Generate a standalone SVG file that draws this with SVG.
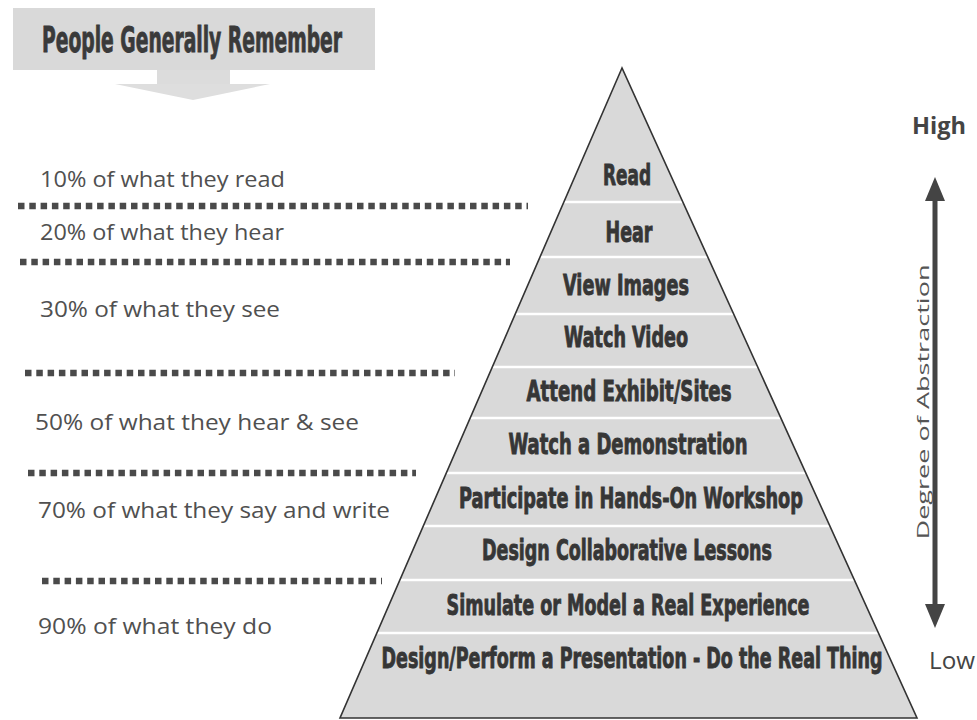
<svg xmlns="http://www.w3.org/2000/svg" width="977" height="720" viewBox="0 0 977 720">
<style>
.lbl{font-family:"Open Sans","Noto Sans",sans-serif;font-size:21px;fill:#505050}
.dots{stroke:#4a4a4a;stroke-width:6.5;stroke-dasharray:6.5 4.8;fill:none}
.lvl{font-family:"DejaVu Sans Condensed","Liberation Sans Narrow","Liberation Sans",sans-serif;font-weight:bold;font-size:29px;fill:#363636;stroke:#363636;stroke-width:0.9;text-anchor:middle}
.div{stroke:#fff;stroke-width:2.5}
</style>
<defs>
<clipPath id="pyrClip"><polygon points="622,68 340,718 917,718"/></clipPath>
</defs>
<rect width="977" height="720" fill="#fff"/>
<g id="header">
<rect x="13" y="8" width="362" height="62" fill="#d9d9d9"/>
<rect x="157" y="70" width="73" height="14" fill="#dcdcdc"/>
<polygon points="115,84 270,84 193,100" fill="#dedede"/>
<text x="42" y="52" font-family="DejaVu Sans Condensed,Liberation Sans Narrow,sans-serif" font-weight="bold" font-size="35" fill="#3a3a3a" stroke="#3a3a3a" stroke-width="0.9" textLength="300" lengthAdjust="spacingAndGlyphs">People Generally Remember</text>
</g>
<g id="labels">
<text class="lbl" x="40" y="187" textLength="245" lengthAdjust="spacingAndGlyphs">10% of what they read</text>
<text class="lbl" x="40" y="240" textLength="244" lengthAdjust="spacingAndGlyphs">20% of what they hear</text>
<text class="lbl" x="40" y="317" textLength="240" lengthAdjust="spacingAndGlyphs">30% of what they see</text>
<text class="lbl" x="35" y="430" textLength="324" lengthAdjust="spacingAndGlyphs">50% of what they hear &amp; see</text>
<text class="lbl" x="38" y="518" textLength="352" lengthAdjust="spacingAndGlyphs">70% of what they say and write</text>
<text class="lbl" x="38" y="634" textLength="234" lengthAdjust="spacingAndGlyphs">90% of what they do</text>
</g>
<g id="connectors">
<line class="dots" x1="18" y1="206" x2="528" y2="206"/>
<line class="dots" x1="20" y1="262" x2="510" y2="262"/>
<line class="dots" x1="25" y1="373" x2="455" y2="373"/>
<line class="dots" x1="28" y1="473" x2="416" y2="473"/>
<line class="dots" x1="42" y1="581" x2="382" y2="581"/>
</g>
<g id="pyramid">
<polygon points="622,68 340,718 917,718" fill="#d9d9d9"/>
<g clip-path="url(#pyrClip)">
<line class="div" x1="300" y1="202" x2="950" y2="202"/>
<line class="div" x1="300" y1="257" x2="950" y2="257"/>
<line class="div" x1="300" y1="314" x2="950" y2="314"/>
<line class="div" x1="300" y1="367" x2="950" y2="367"/>
<line class="div" x1="300" y1="418" x2="950" y2="418"/>
<line class="div" x1="300" y1="473" x2="950" y2="473"/>
<line class="div" x1="300" y1="526" x2="950" y2="526"/>
<line class="div" x1="300" y1="580" x2="950" y2="580"/>
<line class="div" x1="300" y1="633" x2="950" y2="633"/>
</g>
<polygon points="622,68 340,718 917,718" fill="none" stroke="#333" stroke-width="1.6"/>
</g>
<g id="level-read"><text class="lvl" x="627" y="185" textLength="48" lengthAdjust="spacingAndGlyphs">Read</text></g>
<g id="level-hear"><text class="lvl" x="629" y="242" textLength="47" lengthAdjust="spacingAndGlyphs">Hear</text></g>
<g id="level-view"><text class="lvl" x="626" y="295" textLength="126" lengthAdjust="spacingAndGlyphs">View Images</text></g>
<g id="level-video"><text class="lvl" x="626" y="347" textLength="124" lengthAdjust="spacingAndGlyphs">Watch Video</text></g>
<g id="level-exhibit"><text class="lvl" x="629" y="401" textLength="205" lengthAdjust="spacingAndGlyphs">Attend Exhibit/Sites</text></g>
<g id="level-demo"><text class="lvl" x="628" y="454" textLength="239" lengthAdjust="spacingAndGlyphs">Watch a Demonstration</text></g>
<g id="level-workshop"><text class="lvl" x="631" y="508" textLength="344" lengthAdjust="spacingAndGlyphs">Participate in Hands-On Workshop</text></g>
<g id="level-collab"><text class="lvl" x="627" y="560" textLength="290" lengthAdjust="spacingAndGlyphs">Design Collaborative Lessons</text></g>
<g id="level-simulate"><text class="lvl" x="628" y="615" textLength="363" lengthAdjust="spacingAndGlyphs">Simulate or Model a Real Experience</text></g>
<g id="level-real"><text class="lvl" x="632" y="668" textLength="501" lengthAdjust="spacingAndGlyphs">Design/Perform a Presentation - Do the Real Thing</text></g>
<g id="axis">
<line x1="935" y1="195" x2="935" y2="610" stroke="#444" stroke-width="5"/>
<polygon points="935,177 925,201 945,201" fill="#444"/>
<polygon points="935,628 925,604 945,604" fill="#444"/>
<text x="912" y="134" font-family="Open Sans,Noto Sans,sans-serif" font-weight="bold" font-size="24" fill="#444" textLength="54" lengthAdjust="spacingAndGlyphs">High</text>
<text x="929" y="669" font-family="Open Sans,Noto Sans,sans-serif" font-size="24" fill="#444" textLength="46" lengthAdjust="spacingAndGlyphs">Low</text>
<text transform="translate(929,402) rotate(-90)" text-anchor="middle" font-family="Open Sans,Noto Sans,sans-serif" font-size="17" fill="#555" textLength="275" lengthAdjust="spacingAndGlyphs">Degree of Abstraction</text>
</g>
</svg>
